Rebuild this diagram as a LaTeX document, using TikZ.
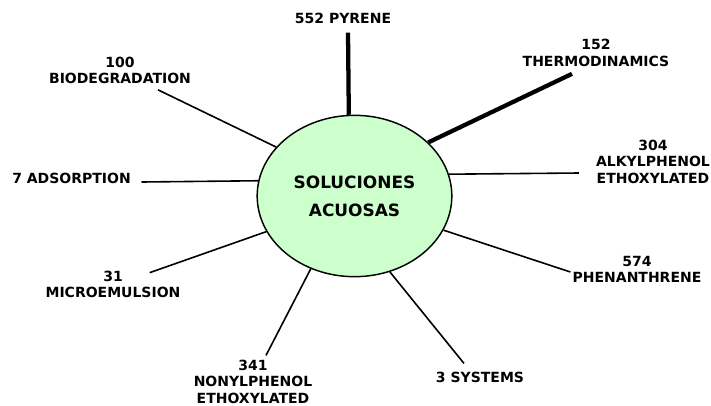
\documentclass[tikz,border=0pt]{standalone}
\usepackage{fontspec}
\setmainfont{DejaVu Sans}
\usepackage{tikz}
\usepackage{xcolor}
\usetikzlibrary{shapes.geometric,positioning}
\definecolor{mint}{HTML}{CCFFCC}

\begin{document}
\begin{tikzpicture}[x=0.75pt, y=-0.75pt,
    hub/.style={ellipse, draw, line width=1.1pt, fill=mint, minimum width=146pt, minimum height=121pt, inner sep=0pt, font=\bfseries\fontsize{12.7}{21}\selectfont, align=center},
    topic/.style={inner sep=0pt, align=center, font=\bfseries\fontsize{10.5}{12.4}\selectfont},
    link/.style={line width=1.2pt},
    heavy/.style={line width=3.2pt}
]
    \useasboundingbox (0,0) rectangle (711,405);

    % Central node
    \node[hub] (sol) at (354.5,196) {SOLUCIONES\\ACUOSAS};

    % Topics around it
    \node[topic] (pyr) at (343,18.5) {552 PYRENE};
    \node[topic] (bio) at (120,70.5) {100\\BIODEGRADATION};
    \node[topic] (ads) at (71.5,178) {7 ADSORPTION};
    \node[topic] (thermo) at (596,53) {152\\THERMODINAMICS};
    \node[topic] (alk) at (653,161.5) {304\\ALKYLPHENOL\\ETHOXYLATED};
    \node[topic] (phen) at (637,269.5) {574\\PHENANTHRENE};
    \node[topic] (sys) at (480,377) {3 SYSTEMS};
    \node[topic] (non) at (253,381.5) {341\\NONYLPHENOL\\ETHOXYLATED};
    \node[topic] (micro) at (113,284.5) {31\\MICROEMULSION};

    % Heavy links
    \draw[heavy] (sol.94.6) -- ([shift={(5,8.5)}]pyr.south);
    \draw[heavy] (sol.36.2) -- ([shift={(-24,7)}]thermo.south);

    % Thin links
    \draw[link] (sol.148.9) -- ([shift={(38,5.5)}]bio.south);
    \draw[link] (sol.171.7) -- ([shift={(10.5,4)}]ads.east);
    \draw[link] (sol.13.5) -- ([shift={(-17,11.5)}]alk.west);
    \draw[link] (sol.-21.3) -- ([shift={(-2,2.5)}]phen.west);
    \draw[link] (sol.-65.2) -- ([shift={(-16,-8)}]sys.north);
    \draw[link] (sol.-121.7) -- ([shift={(13,-4)}]non.north);
    \draw[link] (sol.-158.4) -- ([shift={(-31,2)}]micro.north east);

\end{tikzpicture}
\end{document}
